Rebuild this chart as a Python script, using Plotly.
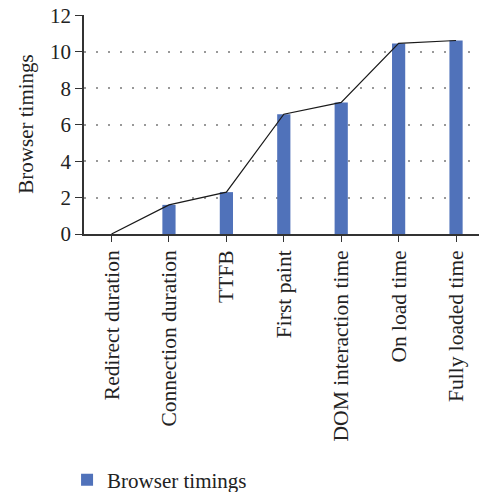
import plotly.graph_objects as go

categories = ["Redirect duration", "Connection duration", "TTFB", "First paint",
              "DOM interaction time", "On load time", "Fully loaded time"]
timings = [0, 1.6, 2.3, 6.58, 7.23, 10.47, 10.63]
y_ticks = [0, 2, 4, 6, 8, 10, 12]
y_title = "Browser timings"

FONT = "Liberation Serif"
BLUE = "#5072BA"
TXT = "#222"

fig = go.Figure()
fig.add_trace(go.Bar(x=categories, y=timings, name="Browser timings",
                     marker=dict(color=BLUE, line=dict(width=0)), width=0.23))
fig.add_trace(go.Scatter(x=categories, y=timings, mode="lines", showlegend=False,
                         line=dict(color="#1a1a1a", width=1.2)))

fig.update_layout(
    width=479, height=492,
    margin=dict(l=84, r=0, t=15, b=258, autoexpand=False),
    plot_bgcolor="white", paper_bgcolor="white",
    font=dict(family=FONT, size=21, color=TXT),
    showlegend=True,
    legend=dict(xref="container", yref="container", x=0.14, y=0.0244,
                xanchor="left", yanchor="middle",
                font=dict(family=FONT, size=21, color=TXT),
                itemwidth=30),
    xaxis=dict(range=[-0.48, 6.40], showline=True, linecolor="#333", linewidth=1.5,
               ticks="outside", ticklen=6, tickcolor="#333", tickangle=-90,
               tickfont=dict(family=FONT, size=21.5, color=TXT), showgrid=False),
    yaxis=dict(range=[0, 12.03], tickvals=y_ticks, showline=True, linecolor="#333",
               linewidth=1.5, ticks="outside", ticklen=7, tickcolor="#333",
               showgrid=True, gridcolor="#999", griddash="2px,10px", gridwidth=1.5,
               zeroline=False,
               tickfont=dict(family=FONT, size=21, color=TXT)),
    annotations=[dict(text=y_title, xref="paper", yref="paper", x=-0.149, y=0.5,
                      xanchor="center", yanchor="middle", textangle=-90,
                      showarrow=False, font=dict(family=FONT, size=21, color=TXT))],
)

fig.write_html("out.html", config={"displayModeBar": False},
               post_script="document.body.style.margin='0px';")
